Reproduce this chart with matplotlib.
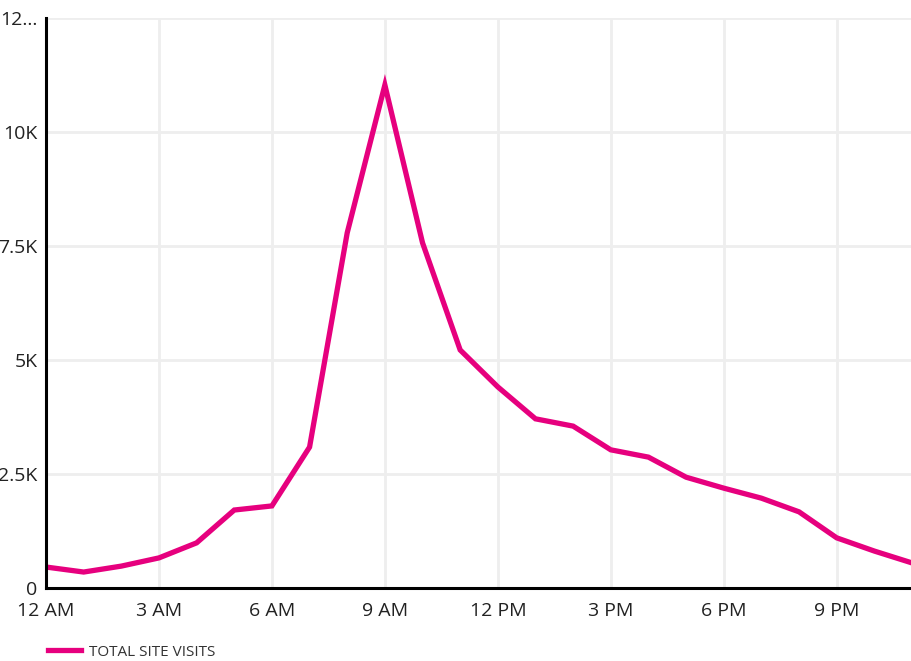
import matplotlib
matplotlib.use("Agg")
import matplotlib.pyplot as plt

plt.rcParams['font.family'] = ['Open Sans', 'DejaVu Sans']

# hourly site visits
hours = list(range(24))
visits = [460, 350, 480, 660, 990, 1710, 1800, 3090, 7790, 11030, 7570, 5220,
          4410, 3710, 3550, 3030, 2870, 2430, 2190, 1970, 1670, 1100, 810, 550]
x_ticks = [0, 3, 6, 9, 12, 15, 18, 21]
x_labels = ["12 AM", "3 AM", "6 AM", "9 AM", "12 PM", "3 PM", "6 PM", "9 PM"]
y_ticks = [0, 2500, 5000, 7500, 10000, 12500]
y_labels = ["0", "2.5K", "5K", "7.5K", "10K", "12..."]

fig = plt.figure(figsize=(9.12, 6.61), dpi=100)
ax = fig.add_axes([46 / 912, 73 / 661, 866 / 912, 570 / 661])

line, = ax.plot(hours, visits, color="#E6007E", linewidth=3.8,
                solid_joinstyle="miter", label="TOTAL SITE VISITS", zorder=3)

ax.set_xlim(0, 23)
ax.set_ylim(0, 12500)
ax.set_xticks(x_ticks)
ax.set_xticklabels(x_labels)
ax.set_yticks(y_ticks)
ax.set_yticklabels(y_labels)
ax.tick_params(length=0, labelsize=14, colors="#222222", pad=6)
ax.tick_params(axis="x", pad=10)

ax.grid(True, color="#EEEEEE", linewidth=2)
ax.set_axisbelow(True)
for side in ["top", "right"]:
    ax.spines[side].set_visible(False)
for side in ["left", "bottom"]:
    ax.spines[side].set_color("black")
    ax.spines[side].set_linewidth(2.2)
    ax.spines[side].set_zorder(4)

# legend below the plot
fig.legend(handles=[line], loc="center left", bbox_to_anchor=(34 / 912, 9 / 661),
           frameon=False, fontsize=11, handlelength=2.2, handletextpad=0.5,
           labelcolor="#333333")

fig.savefig("out.png", dpi=100)
